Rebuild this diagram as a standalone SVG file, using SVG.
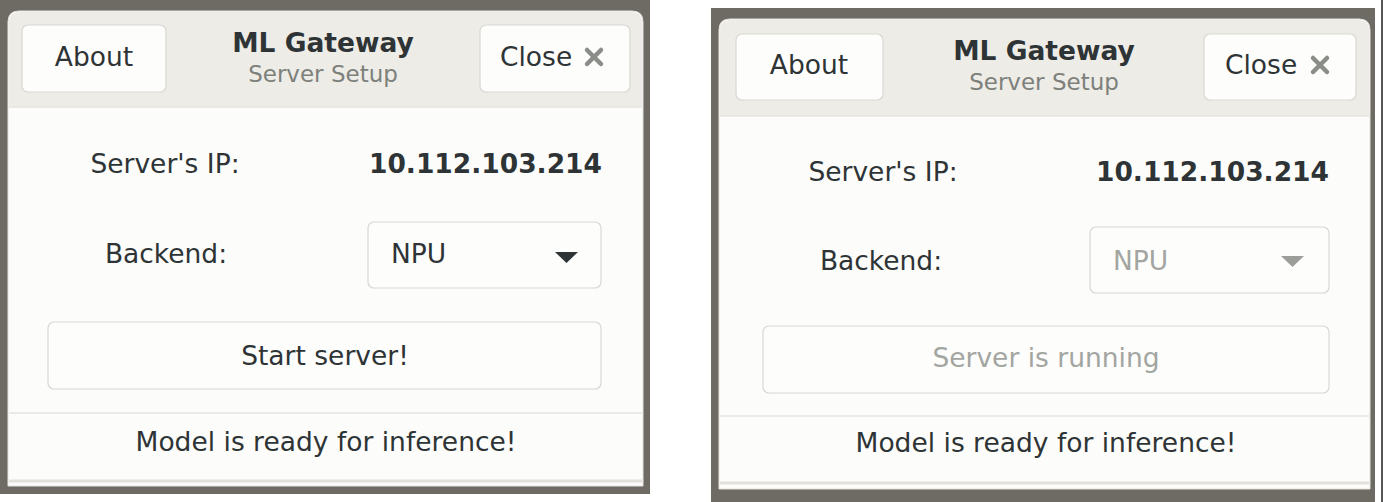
<svg xmlns="http://www.w3.org/2000/svg" width="1384" height="502" viewBox="0 0 1384 502">
<style>
.t{font-family:"DejaVu Sans","Liberation Sans",sans-serif;font-size:26.5px;fill:#2e3436}
.b{font-weight:bold}
.sub{font-size:23px;fill:#7d807b}
.dis{fill:#a3a5a1}
.frame{fill:#6e6a64}
.win{fill:#fcfcfa;stroke:#e4e2dd;stroke-width:1}
.hdr{fill:#eeece7}
.btn{fill:#fdfdfc;stroke:#d9d7d2;stroke-width:1.2}
.sep{stroke:#e6e4df;stroke-width:1.5}
.x{stroke:#8b8d89;stroke-width:4.5;stroke-linecap:round}
</style>
<rect width="1384" height="502" fill="#ffffff"/>
<g id="left-window">
  <rect class="frame" x="0" y="0" width="650" height="494"/>
  <path class="win" d="M8 486 V22 Q8 11 19 11 H632 Q643 11 643 22 V486 Z"/>
  <path class="hdr" d="M9 107 V22 Q9 12 19 12 H632 Q642 12 642 22 V107 Z"/>
  <line class="sep" x1="9" y1="107" x2="642" y2="107" stroke="#dcdad4"/>
  <rect class="btn" x="22" y="25" width="144" height="67" rx="6"/>
  <text class="t" x="94" y="66" text-anchor="middle">About</text>
  <text class="t b" x="323" y="52" text-anchor="middle">ML Gateway</text>
  <text class="t sub" x="323" y="82" text-anchor="middle">Server Setup</text>
  <rect class="btn" x="480" y="25" width="150" height="67" rx="6"/>
  <text class="t" x="500" y="66">Close</text>
  <line class="x" x1="587" y1="50" x2="601" y2="64"/>
  <line class="x" x1="601" y1="50" x2="587" y2="64"/>
  <text class="t" x="165" y="173" text-anchor="middle">Server's IP:</text>
  <text class="t b" x="602" y="173" text-anchor="end">10.112.103.214</text>
  <text class="t" x="166" y="263" text-anchor="middle">Backend:</text>
  <rect class="btn" x="368" y="222" width="233" height="66" rx="6"/>
  <text class="t" x="391" y="263">NPU</text>
  <path d="M555 252 H578 L566.5 263 Z" fill="#2e3436"/>
  <rect class="btn" x="48" y="322" width="553" height="67" rx="6"/>
  <text class="t" x="325" y="365" text-anchor="middle">Start server!</text>
  <line class="sep" x1="9" y1="413" x2="642" y2="413"/>
  <text class="t" x="326" y="451" text-anchor="middle">Model is ready for inference!</text>
  <line x1="9" y1="481" x2="642" y2="481" stroke="#e2e0db" stroke-width="3"/>
</g>
<g id="right-window">
  <rect class="frame" x="711" y="8" width="664" height="494"/>
  <line x1="1382" y1="0" x2="1382" y2="502" stroke="#555" stroke-width="2"/>
  <path class="win" d="M719 489 V30 Q719 19 730 19 H1359 Q1370 19 1370 30 V489 Z"/>
  <path class="hdr" d="M720 116 V30 Q720 20 730 20 H1359 Q1369 20 1369 30 V116 Z"/>
  <line class="sep" x1="720" y1="116" x2="1369" y2="116" stroke="#dcdad4"/>
  <rect class="btn" x="736" y="34" width="147" height="66" rx="6"/>
  <text class="t" x="809" y="74" text-anchor="middle">About</text>
  <text class="t b" x="1044" y="60" text-anchor="middle">ML Gateway</text>
  <text class="t sub" x="1044" y="90" text-anchor="middle">Server Setup</text>
  <rect class="btn" x="1204" y="34" width="152" height="66" rx="6"/>
  <text class="t" x="1225" y="74">Close</text>
  <line class="x" x1="1313" y1="58" x2="1327" y2="72"/>
  <line class="x" x1="1327" y1="58" x2="1313" y2="72"/>
  <text class="t" x="883" y="181" text-anchor="middle">Server's IP:</text>
  <text class="t b" x="1329" y="181" text-anchor="end">10.112.103.214</text>
  <text class="t" x="881" y="270" text-anchor="middle">Backend:</text>
  <rect class="btn" x="1090" y="227" width="239" height="66" rx="6"/>
  <text class="t dis" x="1113" y="270">NPU</text>
  <path d="M1281 256 H1304 L1292.5 267 Z" fill="#9c9e9a"/>
  <rect class="btn" x="763" y="326" width="566" height="67" rx="6"/>
  <text class="t dis" x="1046" y="367" text-anchor="middle">Server is running</text>
  <line class="sep" x1="720" y1="416" x2="1369" y2="416"/>
  <text class="t" x="1046" y="452" text-anchor="middle">Model is ready for inference!</text>
  <line x1="720" y1="483" x2="1369" y2="483" stroke="#e2e0db" stroke-width="3"/>
</g>
</svg>
